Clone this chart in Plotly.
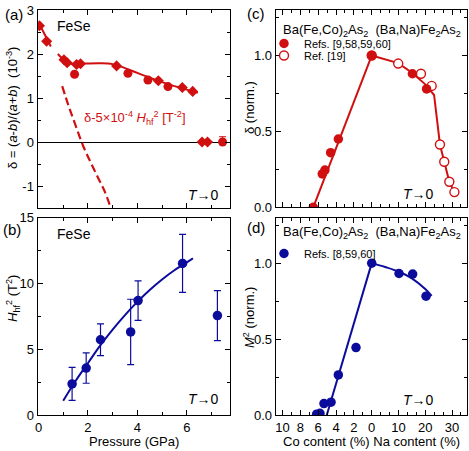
import plotly.graph_objects as go
from plotly.subplots import make_subplots

W, H = 469, 451
RED = "#d01010"
BLUE = "#0c0c9c"
FONT = "Liberation Sans, Arial, sans-serif"

# (a) FeSe: delta (10^-3) vs pressure (GPa)
p_dia = [0.04, 0.33, 1.03, 1.16, 1.54, 1.70, 3.16, 4.85, 5.82, 6.24, 6.62, 6.84]
d_dia = [2.64, 2.29, 1.87, 1.80, 1.76, 1.78, 1.73, 1.39, 1.24, 1.15, 0, 0]
p_circ = [1.46, 3.62, 4.43, 5.24, 7.45]
d_circ = [1.54, 1.56, 1.41, 1.26, 0]
d_circ_err = [0, 0, 0, 0, 0.12]
fit1_p = [0, 0.25, 0.5]
fit1_d = [2.72, 2.45, 2.17]
fit2_p = [0.78, 1.0, 1.2, 1.5, 1.8, 2.5, 3.0, 3.5, 4.0, 4.5, 5.0, 5.5, 6.0, 6.45]
fit2_d = [2.0, 1.88, 1.80, 1.77, 1.78, 1.79, 1.77, 1.68, 1.57, 1.46, 1.36, 1.27, 1.19, 1.12]
dash_p = [0.96, 1.2, 1.5, 1.8, 2.1, 2.4, 2.7, 2.92]
dash_d = [1.27, 0.85, 0.38, -0.08, -0.45, -0.80, -1.15, -1.49]

# (b) FeSe: H_hf^2 (T^2) vs pressure
p_h = [1.36, 1.93, 2.51, 3.73, 4.03, 5.83, 7.24]
h2 = [2.38, 3.58, 5.73, 6.32, 8.70, 11.52, 7.56]
h2_err = [1.25, 1.15, 1.2, 2.48, 1.5, 2.2, 1.9]
fith_p = [1.0, 1.5, 2.0, 2.5, 3.0, 3.5, 4.0, 4.5, 5.0, 5.5, 6.0, 6.25]
fith_h = [1.1, 2.6, 3.95, 5.3, 6.5, 7.6, 8.6, 9.5, 10.3, 11.0, 11.6, 11.9]

# (c) delta (norm.) vs Co / Na content (%)
c_co_f = [6.55, 5.54, 5.24, 4.60, 3.74, 0]
c_co_f_y = [0, 0.22, 0.245, 0.36, 0.45, 1.0]
c_na_f = [15.2, 20.5]
c_na_f_y = [0.88, 0.78]
c_na_o = [0, 9.9, 18.4, 22.4, 25.5, 27.1, 29.0, 30.9]
c_na_o_y = [1.0, 0.947, 0.88, 0.80, 0.414, 0.30, 0.168, 0.10]
c_line_co = [6.55, 0]
c_line_co_y = [0, 1.0]
c_line_na = [0, 9.9, 15.2, 20.0, 23.3, 25.5, 27.1, 29.0, 30.9]
c_line_na_y = [1.0, 0.95, 0.885, 0.81, 0.74, 0.414, 0.30, 0.168, 0.10]

# (d) M^2 (norm.) vs Co / Na content (%)
d_co = [6.17, 5.80, 5.35, 4.56, 3.74, 1.76, 0]
d_co_y = [0.007, 0.013, 0.077, 0.086, 0.265, 0.445, 1.0]
d_na = [10.2, 15.3, 20.3]
d_na_y = [0.932, 0.928, 0.783]
d_line_co = [5.04, 0]
d_line_co_y = [0, 1.0]
d_line_na = [0, 5, 10, 15, 20, 22.4]
d_line_na_y = [1.0, 0.975, 0.945, 0.90, 0.83, 0.785]

dop_ticks = [-10, -8, -6, -4, -2, 0, 3, 6, 9]
dop_labels = ["10", "8", "6", "4", "2", "0", "10", "20", "30"]


def co(v):
    return [-c for c in v]


def na(v):
    return [0.3 * n for n in v]


fig = make_subplots(rows=2, cols=2)

# panel (a)
fig.add_trace(go.Scatter(x=fit1_p, y=fit1_d, mode="lines", line=dict(color=RED, width=2)), row=1, col=1)
fig.add_trace(go.Scatter(x=fit2_p, y=fit2_d, mode="lines", line=dict(color=RED, width=2, shape="spline")), row=1, col=1)
fig.add_trace(go.Scatter(x=dash_p, y=dash_d, mode="lines", line=dict(color=RED, width=2.2, dash="8px,4px", shape="spline")), row=1, col=1)
fig.add_trace(go.Scatter(x=p_dia, y=d_dia, mode="markers", marker=dict(symbol="diamond", size=8.5, color=RED)), row=1, col=1)
fig.add_trace(go.Scatter(x=p_circ, y=d_circ, mode="markers", marker=dict(symbol="circle", size=9, color=RED),
                         error_y=dict(type="data", array=d_circ_err, arrayminus=[0] * len(d_circ), color=RED, thickness=1, width=3.5)), row=1, col=1)

# panel (b)
fig.add_trace(go.Scatter(x=fith_p, y=fith_h, mode="lines", line=dict(color=BLUE, width=2, shape="spline")), row=2, col=1)
fig.add_trace(go.Scatter(x=p_h, y=h2, mode="markers", marker=dict(size=9.5, color=BLUE),
                         error_y=dict(type="data", array=h2_err, color=BLUE, thickness=1.2, width=3.5)), row=2, col=1)

# panel (c)
fig.add_trace(go.Scatter(x=co(c_line_co), y=c_line_co_y, mode="lines", line=dict(color=RED, width=2)), row=1, col=2)
fig.add_trace(go.Scatter(x=na(c_line_na), y=c_line_na_y, mode="lines", line=dict(color=RED, width=2)), row=1, col=2)
fig.add_trace(go.Scatter(x=na(c_na_o), y=c_na_o_y, mode="markers", name="Ref. [19]", legend="legend3",
                         marker=dict(size=9, color="white", line=dict(color=RED, width=1.4))), row=1, col=2)
fig.add_trace(go.Scatter(x=co(c_co_f) + na(c_na_f), y=c_co_f_y + c_na_f_y, mode="markers", name="Refs. [9,58,59,60]",
                         legend="legend", marker=dict(size=9.5, color=RED)), row=1, col=2)

# panel (d)
fig.add_trace(go.Scatter(x=co(d_line_co), y=d_line_co_y, mode="lines", line=dict(color=BLUE, width=2)), row=2, col=2)
fig.add_trace(go.Scatter(x=na(d_line_na), y=d_line_na_y, mode="lines", line=dict(color=BLUE, width=2, shape="spline")), row=2, col=2)
fig.add_trace(go.Scatter(x=co(d_co) + na(d_na), y=d_co_y + d_na_y, mode="markers", name="Refs. [8,59,60]",
                         legend="legend2", marker=dict(size=9.5, color=BLUE)), row=2, col=2)

for tr in fig.data:
    tr.showlegend = tr.name is not None


def dx(l, r):
    return [l / W, r / W]


def dy(t, b):
    return [1 - b / H, 1 - t / H]


axis_style = dict(showline=True, linecolor="black", linewidth=1, mirror="ticks", ticks="inside",
                  ticklen=5, tickcolor="black", showgrid=False, zeroline=False, automargin=False,
                  tickfont=dict(family=FONT, size=13, color="black"))
minor_style = dict(ticks="inside", ticklen=3, tickcolor="black")

fig.update_xaxes(**axis_style)
fig.update_yaxes(**axis_style)

fig.update_layout(
    xaxis=dict(domain=dx(37.5, 230), range=[-0.04, 7.75], dtick=2, showticklabels=False,
               minor=dict(dtick=1, **minor_style)),
    yaxis=dict(domain=dy(10, 208), range=[-1.5, 3.0], tickvals=[-1, 0, 1, 2, 3], ticktext=["-1", "0", "1", "2", "3"],
               zeroline=True, zerolinecolor="black", zerolinewidth=1.2,
               minor=dict(dtick=0.5, **minor_style)),
    xaxis3=dict(domain=dx(37.5, 230), range=[-0.04, 7.75], dtick=2,
                minor=dict(dtick=1, **minor_style)),
    yaxis3=dict(domain=dy(217.5, 415.3), range=[0, 15], dtick=5,
                minor=dict(dtick=2.5, **minor_style)),
    xaxis2=dict(domain=dx(275.7, 467), range=[-10.76, 10.68], tickvals=dop_ticks, ticktext=dop_labels, showticklabels=False,
                minor=dict(tickmode="array", tickvals=list(range(-10, 11)), **minor_style)),
    yaxis2=dict(domain=dy(10, 207.3), range=[0, 1.3], dtick=0.5, tickformat=".1f",
                minor=dict(dtick=0.25, **minor_style)),
    xaxis4=dict(domain=dx(275.7, 467), range=[-10.76, 10.68], tickvals=dop_ticks, ticktext=dop_labels,
                minor=dict(tickmode="array", tickvals=list(range(-10, 11)), **minor_style)),
    yaxis4=dict(domain=dy(217.5, 415.3), range=[0, 1.3], dtick=0.5, tickformat=".1f",
                minor=dict(dtick=0.25, **minor_style)),
)

legend_style = dict(xanchor="left", yanchor="middle", bgcolor="rgba(0,0,0,0)",
                    font=dict(family=FONT, size=11, color="black"), itemwidth=30)
fig.update_layout(
    width=W, height=H, autosize=False,
    margin=dict(l=0, r=0, t=0, b=0, pad=0, autoexpand=False),
    paper_bgcolor="white", plot_bgcolor="white",
    font=dict(family=FONT, size=13, color="black"),
    showlegend=True,
    legend=dict(x=264 / W, y=1 - 43.5 / H, **legend_style),
    legend3=dict(x=264 / W, y=1 - 55.5 / H, **legend_style),
    legend2=dict(x=264 / W, y=1 - 253.5 / H, **legend_style),
)


def note(x, y, text, size=13, color="black", anchor="center", angle=0):
    fig.add_annotation(x=x / W, y=1 - y / H, xref="paper", yref="paper", text=text, showarrow=False,
                       xanchor=anchor, yanchor="middle", textangle=angle,
                       font=dict(family=FONT, size=size, color=color))


note(3, 15, "(a)", 15, anchor="left")
note(1, 229, "(b)", 15, anchor="left")
note(245, 14, "(c)", 15, anchor="left")
note(245, 228, "(d)", 15, anchor="left")
note(55, 26, "FeSe", 14, anchor="left")
note(55, 234.5, "FeSe", 14, anchor="left")
note(221, 195, "<i>T</i>\u21920", 14, anchor="right")
note(221, 399, "<i>T</i>\u21920", 14, anchor="right")
note(436, 194, "<i>T</i>\u21920", 14, anchor="right")
note(436, 400, "<i>T</i>\u21920", 14, anchor="right")
note(82, 118, "\u03b4-5\u00d710<sup>-4</sup> <i>H</i><sub>hf</sub><sup>2</sup> [T<sup>-2</sup>]", 13, RED, anchor="left")
note(371.5, 30, "Ba(Fe,Co)<sub>2</sub>As<sub>2</sub>  (Ba,Na)Fe<sub>2</sub>As<sub>2</sub>", 13)
note(371.5, 232, "Ba(Fe,Co)<sub>2</sub>As<sub>2</sub>  (Ba,Na)Fe<sub>2</sub>As<sub>2</sub>", 13)
note(12, 108, "\u03b4 = (<i>a</i>-<i>b</i>)/(<i>a</i>+<i>b</i>)  (10<sup>-3</sup>)", 13, angle=-90)
note(13, 299, "<i>H</i><sub>hf</sub><sup>2</sup> (T<sup>2</sup>)", 13, angle=-90)
note(249, 107, "\u03b4 (norm.)", 13, angle=-90)
note(249, 317, "<i>M</i><sup>2</sup> (norm.)", 13, angle=-90)
note(134, 441, "Pressure (GPa)", 13)
note(371.5, 441, "Co content (%) Na content (%)", 13)

fig.write_html("out.html", config={"displayModeBar": False},
               post_script="document.body.style.margin='0';document.body.style.overflow='hidden';")
